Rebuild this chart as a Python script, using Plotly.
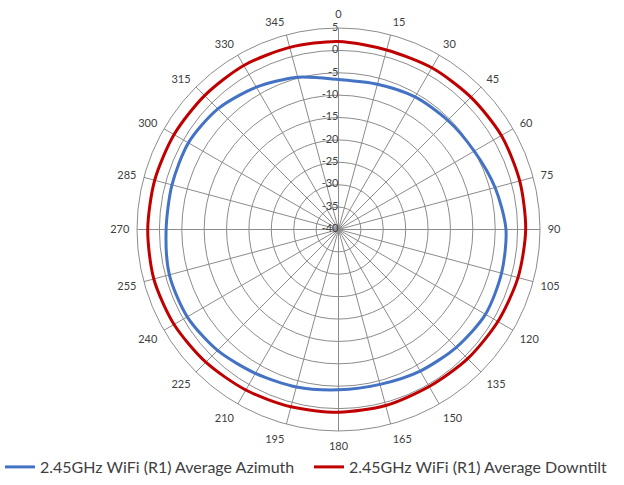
import plotly.graph_objects as go

angles = list(range(0, 360, 15))
azimuth = [-6.5, -6.4, -5.8, -5.5, -5.0, -3.8, -2.6, -2.3, -2.1, -2.8, -3.5, -4.2,
           -4.2, -3.6, -2.9, -1.8, -1.0, -0.9, -1.5, -1.5, -1.3, -1.9, -3.3, -4.8]
downtilt = [2.0, 1.5, 1.7, 1.8, 2.0, 1.9, 1.8, 1.5, 1.1, 0.8, 0.5, 0.7,
            0.8, 1.0, 1.4, 1.9, 2.4, 2.7, 2.6, 2.5, 2.4, 2.3, 2.3, 2.1]
series_names = ["2.45GHz WiFi (R1) Average Azimuth", "2.45GHz WiFi (R1) Average Downtilt"]
radial_ticks = list(range(-40, 10, 5))

fig = go.Figure()
for name, vals, color in [(series_names[0], azimuth, "#4472C4"),
                          (series_names[1], downtilt, "#C00000")]:
    fig.add_trace(go.Scatterpolar(
        r=vals + vals[:1], theta=angles + angles[:1], mode="lines", name=name,
        line=dict(color=color, width=3, shape="spline", smoothing=0.8)))

# radial tick labels, left of the 0-degree spoke
fig.add_trace(go.Scatterpolar(
    r=radial_ticks, theta=[0] * len(radial_ticks), mode="text",
    text=[str(v) for v in radial_ticks], textposition="middle left",
    textfont=dict(size=11, color="#404040", family="Lato, Liberation Sans, sans-serif"),
    showlegend=False, hoverinfo="skip", cliponaxis=False))

grid = "#8C8C8C"
fig.update_layout(
    width=624, height=485,
    margin=dict(l=0, r=0, t=0, b=0),
    paper_bgcolor="white",
    font=dict(family="Lato, Liberation Sans, sans-serif", color="#404040"),
    polar=dict(
        domain=dict(x=[137/624, 540/624], y=[1-431/485, 1-28/485]),
        bgcolor="white",
        angularaxis=dict(tickmode="array", tickvals=angles,
                         ticktext=[str(a) for a in angles],
                         direction="clockwise", rotation=90,
                         showline=True, linecolor=grid, linewidth=1,
                         gridcolor=grid, gridwidth=0.8,
                         ticks="outside", ticklen=5, tickcolor="rgba(0,0,0,0)",
                         tickfont=dict(size=11, color="#404040")),
        radialaxis=dict(range=[-40, 5], tickvals=radial_ticks, angle=90,
                        showticklabels=False, showline=False,
                        gridcolor=grid, gridwidth=0.8, ticks=""),
    ),
    showlegend=True,
    legend=dict(orientation="h", x=0.0, xanchor="left", y=1-467/485, yanchor="middle",
                bgcolor="rgba(0,0,0,0)",
                font=dict(size=16, color="#404040"),
                entrywidth=264, entrywidthmode="pixels", itemwidth=30),
)
fig.write_html("out.html", config={"displayModeBar": False},
               post_script="document.body.style.margin='0px';")
